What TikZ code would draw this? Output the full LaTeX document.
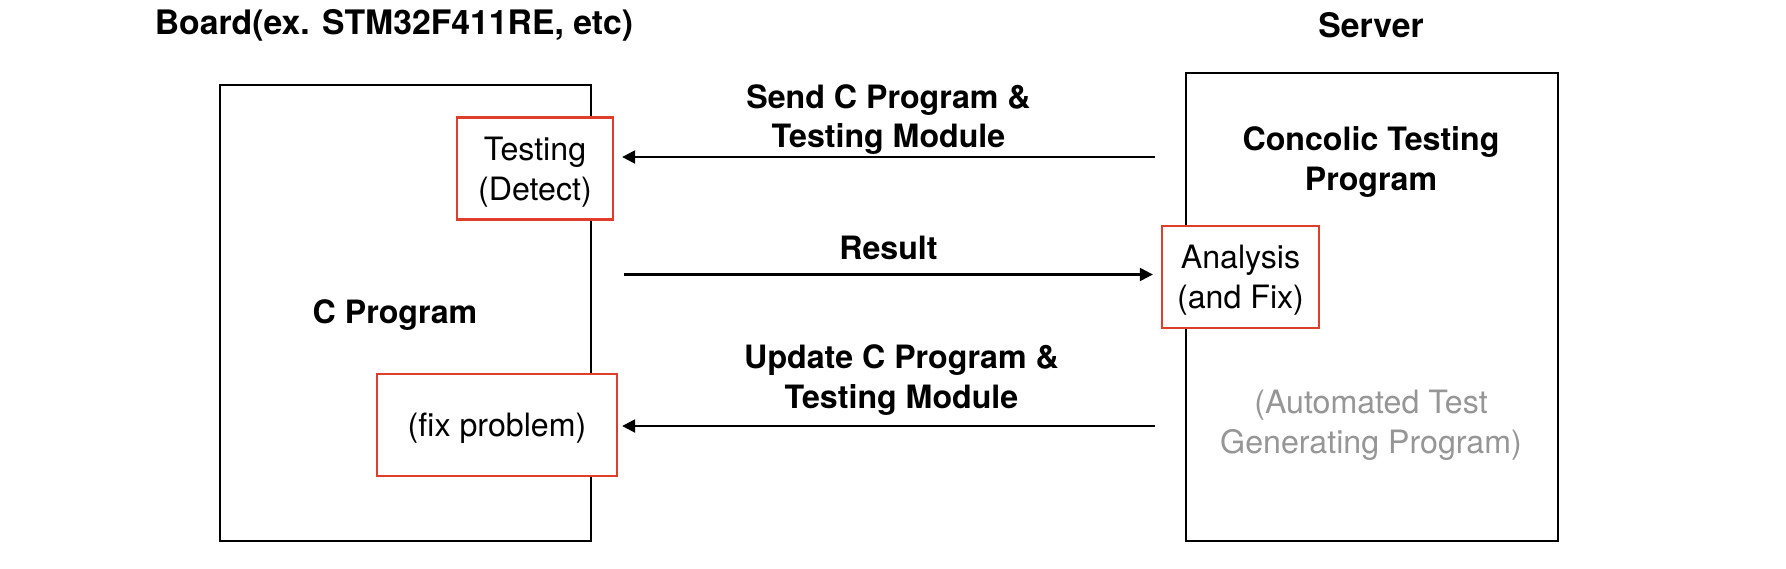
\documentclass[tikz,border=0pt]{standalone}
\usepackage{fontspec}
\setmainfont{TeX Gyre Heros}
\usepackage{tikz}
\usetikzlibrary{positioning, arrows.meta}
\definecolor{boxred}{RGB}{222,62,42}
\definecolor{softgray}{RGB}{150,150,150}

\begin{document}
\begin{tikzpicture}[
    every node/.style={font=\fontsize{9.15}{11.3}\selectfont},
    side/.style={
        rectangle,
        draw=black,
        line width=0.65pt,
        fill=white
    },
    unit/.style={
        rectangle,
        draw=boxred,
        line width=0.65pt,
        fill=white,
        align=center,
        text depth=0pt,
        minimum height=1.02cm
    },
    label/.style={
        align=center,
        inner sep=0pt,
        font=\fontsize{9.15}{11.3}\selectfont\bfseries
    },
    title/.style={
        inner sep=0pt,
        font=\fontsize{9.6}{11.5}\selectfont\bfseries
    },
    arrow/.style={-{Triangle[length=1.3mm, width=1.3mm]}, line width=0.65pt}
]

\useasboundingbox (0,0) rectangle (17.86,-5.68);

% the two sides
\node[title] (boardtitle) at (3.94,-0.25) {Board(ex. STM32F411RE, etc)};
\node[title] (servertitle) at (13.71,-0.25) {Server};

\node[side, minimum width=3.71cm, minimum height=4.56cm] (board) at (4.055,-3.13) {};
\node[side, minimum width=3.72cm, minimum height=4.68cm] (server) at (13.72,-3.07) {};

\node[label] (cprog) at (3.95,-3.15) {C Program};
\node[label] (concolic) at (13.71,-1.62) {Concolic Testing\\Program};
\node[align=center, inner sep=0pt, text=softgray] (autogen) at (13.71,-4.255) {(Automated Test\\Generating Program)};

% red boxes
\node[unit, minimum width=1.56cm] (test) at (5.35,-1.685) {Testing\\(Detect)};
\node[unit, minimum width=2.40cm] (fix) at (4.97,-4.25) {(fix problem)};
\node[unit, minimum width=1.57cm] (analysis) at (12.405,-2.77) {Analysis\\(and Fix)};

% messages
\coordinate (sendpt) at ([yshift=1.15mm]test.east);
\coordinate (resultpt) at ([yshift=0.25mm]board.east |- analysis.west);
\coordinate (updatept) at ([yshift=-0.1mm]fix.east);

\draw[arrow] ([xshift=-3mm]server.west |- sendpt) -- node[label, above=0.1mm]{Send C Program \&\\Testing Module} ([xshift=0.8mm]sendpt);
\draw[arrow] ([xshift=3.2mm]resultpt) -- node[label, above=1.35mm]{Result} ([xshift=-0.8mm]analysis.west |- resultpt);
\draw[arrow] ([xshift=-3mm]server.west |- updatept) -- node[label, above=0.95mm, xshift=1.3mm]{Update C Program \&\\Testing Module} ([xshift=0.4mm]updatept);

\end{tikzpicture}
\end{document}
